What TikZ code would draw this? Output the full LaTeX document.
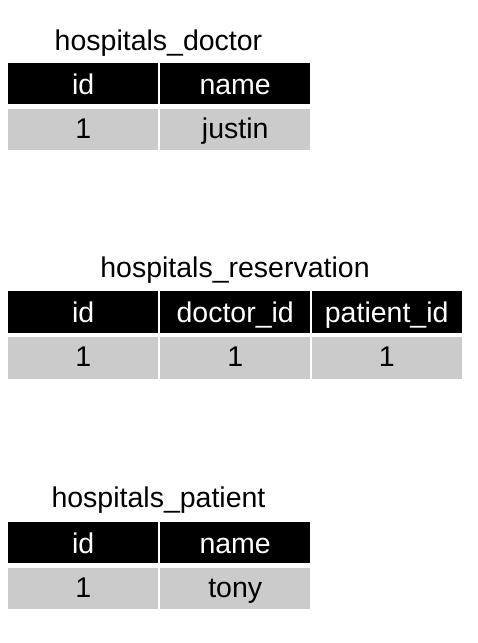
\documentclass[tikz,border=0pt]{standalone}
\usepackage{fontspec}
\setmainfont{Liberation Sans}
\definecolor{cellgray}{HTML}{CBCBCB}
\begin{document}
\begin{tikzpicture}[x=1pt,y=-1pt,
  every node/.style={font=\fontsize{28.5}{33}\selectfont, inner sep=0pt},
  hdr/.style={fill=black, text=white, minimum width=150pt, minimum height=41.5pt,
    anchor=north west, text height=21.1pt, text depth=0pt},
  val/.style={fill=cellgray, text=black, minimum width=150pt, minimum height=41.5pt,
    anchor=north west, text height=17.5pt, text depth=0pt},
  ttl/.style={anchor=base, text=black}]
\useasboundingbox (0,0) rectangle (478,643);
% table 1
\node[ttl] (t1) at (158.5,50) {hospitals\_doctor};
\node[hdr] (d-h1) at (8,62.5) {id};
\node[hdr] (d-h2) at (160,62.5) {name};
\node[val] (d-v1) at (8,108.5) {1};
\node[val] (d-v2) at (160,108.5) {justin};
% table 2
\node[ttl] (t2) at (235,277) {hospitals\_reservation};
\node[hdr] (r-h1) at (8,291) {id};
\node[hdr] (r-h2) at (160,291) {doctor\_id};
\node[hdr] (r-h3) at (311.5,291) {patient\_id};
\node[val] (r-v1) at (8,337) {1};
\node[val] (r-v2) at (160,337) {1};
\node[val] (r-v3) at (311.5,337) {1};
% table 3
\node[ttl] (t3) at (158.5,507) {hospitals\_patient};
\node[hdr] (p-h1) at (8,521.7) {id};
\node[hdr] (p-h2) at (160,521.7) {name};
\node[val] (p-v1) at (8,567.7) {1};
\node[val] (p-v2) at (160,567.7) {tony};
\end{tikzpicture}
\end{document}
